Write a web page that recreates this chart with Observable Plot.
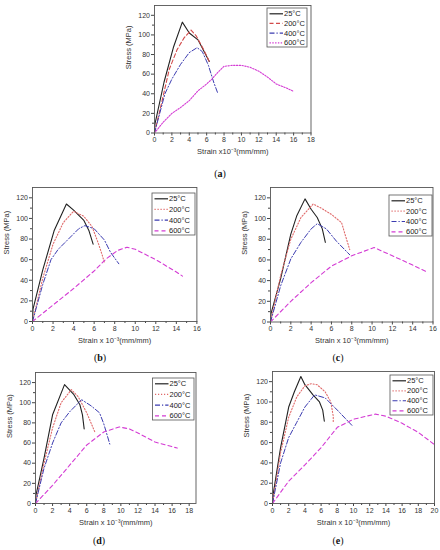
<!DOCTYPE html>
<html>
<head>
<meta charset="utf-8">
<script src="https://cdn.jsdelivr.net/npm/d3@7"></script>
<script src="https://cdn.jsdelivr.net/npm/@observablehq/plot@0.6"></script>
<style>
  html, body { margin: 0; padding: 0; background: #fff; }
  #root { position: relative; width: 440px; height: 550px; overflow: hidden; background: #fff; font-family: "Liberation Sans", Arial, sans-serif; }
  #root svg.panel { position: absolute; }
  #overlay { position: absolute; left: 0; top: 0; pointer-events: none; }
</style>
</head>
<body>
<div id="root"></div>
<script>
// ---------- data (strain x10^-3, stress MPa) ----------
const temps = ["25°C", "200°C", "400°C", "600°C"];

const a25  = [[0,0],[0.05,9],[1.1,52],[2.2,88],[3.2,113],[4.0,102],[5.0,95],[5.6,85],[6.3,73]];
const a200 = [[0,0],[0.8,30],[1.7,65],[2.6,85],[3.4,97],[4.2,105],[4.8,99],[5.6,86],[6.4,71]];
const a400 = [[0,0],[0.6,20],[1.2,40],[2.0,55],[3.0,70],[4.0,82],[4.9,87],[5.5,83],[6.2,69],[6.8,52],[7.3,40]];
const a600 = [[0,0],[1,11],[2,20],[3,26],[4,33],[5,43],[6,50],[6.6,55],[7.3,62],[8,68],[9,69],[10,69],[11,67],[12,63],[13,57],[14,50],[15,46.5],[16,42.5]];

const b25  = [[0,0],[0.05,12],[1,50],[2.1,88],[3.3,114],[4.0,108],[5.0,98],[5.5,88],[5.9,75]];
const b200 = [[0,0],[1,42],[2,75],[3,96],[4,107],[5,102],[5.8,92],[6.4,76],[6.8,64],[7,57]];
const b400 = [[0,0],[0.5,18],[1,36],[1.8,60],[2.5,70],[3.5,80],[4.5,90],[5.1,93],[6,90],[7,79],[7.6,67],[8.4,56]];
const b600 = [[0,0],[2,16],[4,32],[6,49],[7.2,61],[8.3,69],[9.2,72],[10,70],[12,60],[14,48],[14.6,44]];

const c25  = [[0,0],[0.05,8],[1,42],[2,85],[2.6,103],[3.4,119],[4.0,109],[4.6,101],[5.1,90],[5.4,77]];
const c200 = [[0,0],[1,45],[2,80],[3,101],[4.2,114],[5,110],[6,104],[7,96],[7.3,86],[7.8,70]];
const c400 = [[0,0],[1,35],[2,61],[3,77],[4,90],[4.6,95],[5.5,90],[6.5,78],[7.8,65]];
const c600 = [[0,0],[2,20],[4,38],[6,54],[8,64],[10.2,72],[12,64],[14,55],[15.5,48]];

const d25  = [[0,0],[0.05,8],[1,45],[2,88],[3.4,118],[4.5,108],[5.2,98],[5.5,88],[5.7,74]];
const d200 = [[0,0],[1,40],[2,75],[3,100],[4.2,113],[5,106],[6,90],[6.5,80],[7,70]];
const d400 = [[0,0],[1,35],[2,60],[3,80],[4,91],[5.4,103],[6.5,97],[7.5,90],[8,79],[8.7,59]];
const d600 = [[0,0],[2,18],[4,38],[6,58],[8,71],[9.8,76],[11,74],[12,70],[14,61],[16.6,55]];

const e25  = [[0,0],[0.1,10],[1,55],[2,95],[2.7,110],[3.5,125],[4,117],[5,107],[5.8,100],[6.2,92],[6.4,81]];
const e200 = [[0,0],[1,50],[2,85],[3,105],[4,116],[4.8,118],[5.5,117],[6.5,110],[7.2,100],[7.5,86],[7.5,80]];
const e400 = [[0,0],[1,40],[2,65],[3,80],[4,95],[5.2,107],[6.5,104],[8,92],[9.8,77]];
const e600 = [[0,0],[2,22],[4,38],[6,55],[8,75],[10,83],[12.7,88],[14,86],[16,79],[18,70],[20,58]];

const xMaxes = {a: 18, b: 16, c: 16, d: 18.8, e: 20};
const yMax = 130;
const letters = ["(a)", "(b)", "(c)", "(d)", "(e)"];

// ---------- styles ----------
const styleA = [
  {stroke: "#222", dash: null, w: 1.1},
  {stroke: "#d24a4a", dash: "4,2.5", w: 1.1},
  {stroke: "#3b3bb0", dash: "5,2,1.2,2", w: 1},
  {stroke: "#d43cd4", dash: "1.4,1.4", w: 1.1}
];
const styleB = [
  {stroke: "#222", dash: null, w: 1.1},
  {stroke: "#e06a6a", dash: "1.2,1.8", w: 1.1},
  {stroke: "#3b3bb0", dash: "5,2,1.2,2", w: 1},
  {stroke: "#d43cd4", dash: "4,3", w: 1.1}
];

const panels = [
  {key: "a", series: [a25, a200, a400, a600], st: styleA, fl: 154, fr: 310.5, ft: 5, fb: 132.5,
   xlabel: "Strain x10⁻³(mm/mm)", legend: {x: 267, y: 8, w: 40, h: 39}, letter: [220, 173]},
  {key: "b", series: [b25, b200, b400, b600], st: styleB, fl: 32.3, fr: 196.7, ft: 187, fb: 321,
   xlabel: "Strain x 10⁻³(mm/mm)", legend: {x: 152, y: 193, w: 43, h: 42}, letter: [100, 357]},
  {key: "c", series: [c25, c200, c400, c600], st: styleB, fl: 270, fr: 432.5, ft: 187, fb: 321.5,
   xlabel: "Strain x 10⁻³(mm/mm)", legend: {x: 389, y: 195, w: 43, h: 41}, letter: [338, 357]},
  {key: "d", series: [d25, d200, d400, d600], st: styleB, fl: 34.5, fr: 195, ft: 372, fb: 503,
   xlabel: "Strain x 10⁻³(mm/mm)", legend: {x: 152.5, y: 378, w: 41.5, h: 42}, letter: [99, 540]},
  {key: "e", series: [e25, e200, e400, e600], st: styleB, fl: 272, fr: 434, ft: 371, fb: 503,
   xlabel: "Strain x 10⁻³(mm/mm)", legend: {x: 390, y: 375, w: 43, h: 40}, letter: [338, 540]}
];

const root = document.getElementById("root");
const mL = 32, mR = 4, mT = 4, mB = 30;

panels.forEach((p, i) => {
  const xMax = xMaxes[p.key];
  const w = p.fr - p.fl + mL + mR;
  const h = p.fb - p.ft + mT + mB;
  const xMajor = d3.range(0, xMax + 0.001, 2);
  const xMinor = d3.range(1, xMax + 0.001, 2);
  const yMajor = d3.range(0, 121, 20);
  const yMinor = d3.range(10, 130, 20);
  const marks = [
    Plot.axisX({ticks: xMinor, tickSize: 2, tickFormat: () => "", label: null, stroke: "#444"}),
    Plot.axisY({ticks: yMinor, tickSize: 2, tickFormat: () => "", label: null, stroke: "#444"}),
    Plot.axisX({ticks: xMajor, tickSize: 3, tickPadding: 1.5, tickFormat: d => d, label: null, fontSize: 7, stroke: "#444", fill: "#333"}),
    Plot.axisY({ticks: yMajor, tickSize: 3, tickPadding: 1.5, tickFormat: d => d, label: null, fontSize: 7, stroke: "#444", fill: "#333"}),
    ...p.series.map((s, k) => Plot.line(s, {
      x: d => d[0], y: d => d[1],
      stroke: p.st[k].stroke, strokeWidth: p.st[k].w,
      strokeDasharray: p.st[k].dash, clip: true
    })),
    Plot.frame({stroke: "#555", strokeWidth: 0.9}),
    Plot.text([p.xlabel], {frameAnchor: "bottom", dy: 19, fontSize: 7.5, fill: "#333", lineAnchor: "middle"}),
    Plot.text(["Stress (MPa)"], {frameAnchor: "left", dx: -26, rotate: -90, fontSize: 7.5, fill: "#333", lineAnchor: "middle"})
  ];
  const svg = Plot.plot({
    width: w, height: h,
    marginLeft: mL, marginRight: mR, marginTop: mT, marginBottom: mB,
    x: {domain: [0, xMax]},
    y: {domain: [0, yMax]},
    style: {fontFamily: "'Liberation Sans', Arial, sans-serif", background: "transparent", overflow: "visible"},
    marks
  });
  svg.classList.add("panel");
  svg.style.left = (p.fl - mL) + "px";
  svg.style.top = (p.ft - mT) + "px";
  root.appendChild(svg);
});

// ---------- legends and panel letters ----------
const ov = d3.select(root).append("svg").attr("id", "overlay").attr("width", 440).attr("height", 550);
panels.forEach(p => {
  const L = p.legend;
  const g = ov.append("g");
  g.append("rect").attr("x", L.x).attr("y", L.y).attr("width", L.w).attr("height", L.h)
    .attr("fill", "#fff").attr("stroke", "#555").attr("stroke-width", 0.8);
  const step = (L.h - 10) / 3;
  temps.forEach((t, k) => {
    const y = L.y + 5.8 + k * step;
    const s = p.st[k];
    g.append("line").attr("x1", L.x + 2.5).attr("x2", L.x + 16).attr("y1", y).attr("y2", y)
      .attr("stroke", s.stroke).attr("stroke-width", s.w + 0.1)
      .attr("stroke-dasharray", s.dash || null);
    g.append("text").attr("x", L.x + 17).attr("y", y).attr("dy", "0.35em")
      .attr("font-size", 7.5).attr("fill", "#222")
      .attr("font-family", "'Liberation Sans', Arial, sans-serif").text(t);
  });
});
panels.forEach((p, i) => {
  const txt = ov.append("text").attr("x", p.letter[0]).attr("y", p.letter[1]).attr("dy", "0.35em")
    .attr("text-anchor", "middle").attr("font-size", 10)
    .attr("font-family", "'Liberation Serif', 'Times New Roman', serif").attr("fill", "#111");
  const s = letters[i];
  txt.append("tspan").text("(");
  txt.append("tspan").attr("font-weight", "bold").text(s.slice(1, -1));
  txt.append("tspan").text(")");
});
</script>
</body>
</html>
